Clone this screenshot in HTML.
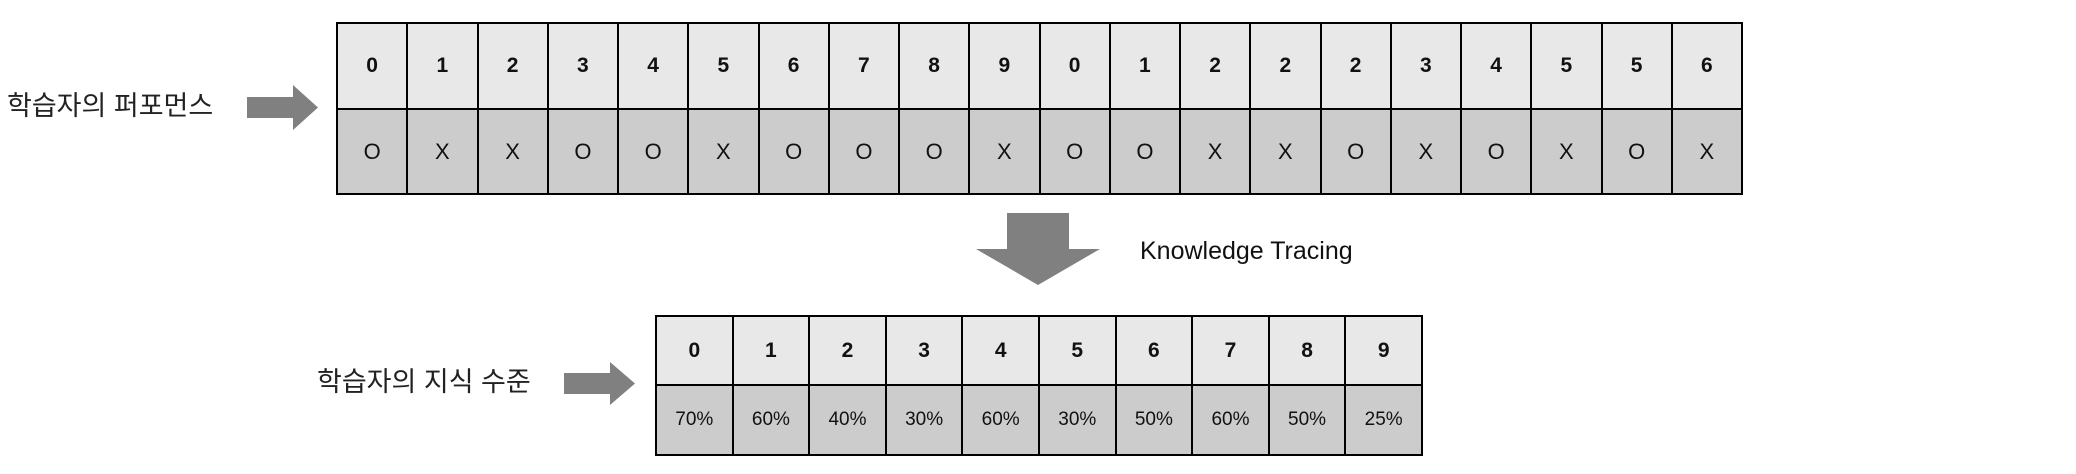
<!DOCTYPE html>
<html><head><meta charset="utf-8"><style>
html,body{margin:0;padding:0;background:#fff;width:2076px;height:474px;overflow:hidden;position:relative}
.t{position:absolute;border-collapse:collapse;table-layout:fixed;font-family:"Liberation Sans",Arial,sans-serif;color:#111}
.t td{border:2.5px solid #000;text-align:center;padding:0}
.h td{background:#e8e8e8;font-weight:bold}
.b td{background:#cccccc}
.lbl{position:absolute;font-family:"Liberation Sans","Noto Sans CJK KR","NanumGothic",sans-serif;font-size:27px;color:#222;white-space:nowrap;line-height:1}
</style></head><body>

<div class="lbl" style="left:7px;top:93px;">학습자의 퍼포먼스</div>
<svg style="position:absolute;left:0;top:0" width="2076" height="474">
<polygon points="247,97 293,97 293,85 318,107.5 293,130 293,118 247,118" fill="#808080"/>
<polygon points="564,373 610,373 610,362 635,383.5 610,405 610,394 564,394" fill="#808080"/>
<polygon points="1007,213 1069,213 1069,249 1100,249 1038,285 976,249 1007,249" fill="#808080"/>
</svg>
<div class="lbl" style="left:317px;top:369px;">학습자의 지식 수준</div>
<div class="lbl" style="left:1140px;top:239px;font-size:25px;color:#111;">Knowledge Tracing</div>

<table class="t" style="left:336px;top:22px;width:1407px;height:171px;font-size:21px;">
<tr class="h" style="height:86px"><td>0</td><td>1</td><td>2</td><td>3</td><td>4</td><td>5</td><td>6</td><td>7</td><td>8</td><td>9</td><td>0</td><td>1</td><td>2</td><td>2</td><td>2</td><td>3</td><td>4</td><td>5</td><td>5</td><td>6</td></tr>
<tr class="b" style="height:85px;font-size:22px"><td>O</td><td>X</td><td>X</td><td>O</td><td>O</td><td>X</td><td>O</td><td>O</td><td>O</td><td>X</td><td>O</td><td>O</td><td>X</td><td>X</td><td>O</td><td>X</td><td>O</td><td>X</td><td>O</td><td>X</td></tr>
</table>

<table class="t" style="left:655px;top:315px;width:768px;height:139px;font-size:21px;">
<tr class="h" style="height:69px"><td>0</td><td>1</td><td>2</td><td>3</td><td>4</td><td>5</td><td>6</td><td>7</td><td>8</td><td>9</td></tr>
<tr class="b" style="height:70px;font-size:19px"><td>70%</td><td>60%</td><td>40%</td><td>30%</td><td>60%</td><td>30%</td><td>50%</td><td>60%</td><td>50%</td><td>25%</td></tr>
</table>

</body></html>
